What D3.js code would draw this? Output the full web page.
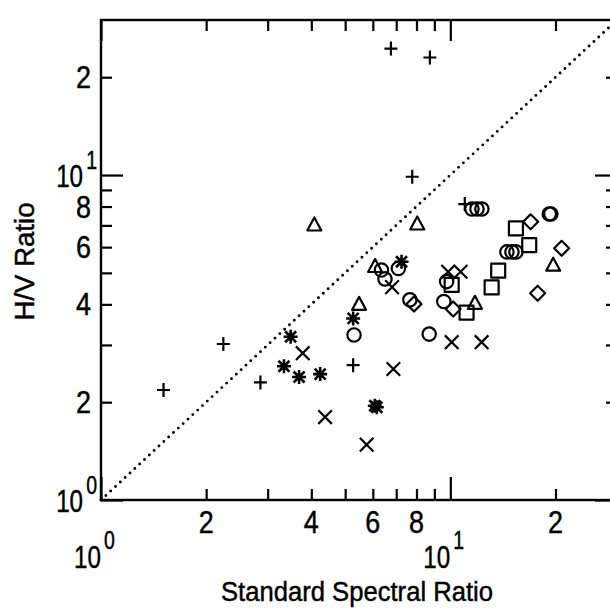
<!DOCTYPE html>
<html>
<head>
<meta charset="utf-8">
<script src="https://cdn.jsdelivr.net/npm/d3@7"></script>
<style>
  html, body { margin: 0; padding: 0; background: #fff; }
  svg { display: block; }
  text { font-family: "Liberation Sans Narrow", "Liberation Sans", Arial, sans-serif; fill: #000; stroke: #000; stroke-width: 0.45px; }
</style>
</head>
<body>
<svg id="chart" width="610" height="612"></svg>
<script>
// ---------- data (Standard Spectral Ratio, H/V Ratio) ----------
const plusPts = [[1.51,2.18],[2.24,3.02],[2.86,2.30],[5.27,2.60],[6.76,24.5],[8.74,23.0],[7.78,9.88],[11.0,8.14]];
const trianglePts = [[4.08,7.02],[8.04,7.07],[6.09,5.23],[5.48,4.00],[11.76,4.03],[19.7,5.28]];
const circlePts = [[6.35,5.10],[6.50,4.79],[7.10,5.16],[7.66,4.13],[5.30,3.22],[8.70,3.24],[9.76,4.70],[9.58,4.08],
                   [11.53,7.86],[11.92,7.86],[12.31,7.86],[19.2,7.59],[19.4,7.59],[14.52,5.80],[15.01,5.80],[15.41,5.80]];
const squarePts = [[15.41,6.85],[16.82,6.09],[13.71,5.08],[13.13,4.51],[11.13,3.77],[10.09,4.59]];
const diamondPts = [[16.98,7.18],[20.83,5.95],[17.78,4.33],[10.19,3.87],[7.87,4.01]];
const timesPts = [[3.78,2.83],[4.38,1.80],[6.81,4.52],[5.76,1.48],[6.87,2.53],[10.09,3.06],[12.29,3.06],[9.86,5.04],[10.7,5.04]];
const asteriskPts = [[3.49,3.18],[3.34,2.58],[3.69,2.39],[4.24,2.44],[5.27,3.62],[6.08,1.95],[6.16,1.93],[7.25,5.41]];

const xDomain = [1, 30];
const yDomain = [1, 30];
const minorTicks = [2,3,4,5,6,7,8,9,20];
const majorTicks = [1,10];
const digitTickLabels = [2,4,6,8,20];
const decadeExponents = [0,1];
const xTitle = "Standard Spectral Ratio";
const yTitle = "H/V Ratio";

// ---------- layout ----------
const svg = d3.select("#chart");
const x = d3.scaleLog().domain(xDomain).range([101, 617]);
const y = d3.scaleLog().domain(yDomain).range([500, 20]);
const ink = "#000";

// diagonal reference line y = x (dotted)
svg.append("line")
  .attr("x1", x(1)).attr("y1", y(1))
  .attr("x2", x(30)).attr("y2", y(30))
  .attr("stroke", ink).attr("stroke-width", 2.9)
  .attr("stroke-linecap", "round")
  .attr("stroke-dasharray", "0,6.6");

// frame
svg.append("rect")
  .attr("x", x(1)).attr("y", y(30))
  .attr("width", x(30) - x(1)).attr("height", y(1) - y(30))
  .attr("fill", "none").attr("stroke", ink).attr("stroke-width", 2.4);

function styleAxis(g) {
  g.select(".domain").remove();
  g.selectAll(".tick line").attr("stroke", ink).attr("stroke-width", 2.2);
  g.selectAll(".tick text").remove();
}
// bottom frame: ticks pointing up
svg.append("g").attr("transform", `translate(0,${y(1)})`)
  .call(d3.axisTop(x).tickValues(minorTicks).tickSize(11).tickFormat("")).call(styleAxis);
svg.append("g").attr("transform", `translate(0,${y(1)})`)
  .call(d3.axisTop(x).tickValues(majorTicks).tickSize(23).tickFormat("")).call(styleAxis);
// top frame: ticks pointing down
svg.append("g").attr("transform", `translate(0,${y(30)})`)
  .call(d3.axisBottom(x).tickValues(minorTicks).tickSize(11).tickFormat("")).call(styleAxis);
svg.append("g").attr("transform", `translate(0,${y(30)})`)
  .call(d3.axisBottom(x).tickValues(majorTicks).tickSize(21).tickFormat("")).call(styleAxis);
// left frame: ticks pointing right
svg.append("g").attr("transform", `translate(${x(1)},0)`)
  .call(d3.axisRight(y).tickValues(minorTicks).tickSize(11).tickFormat("")).call(styleAxis);
svg.append("g").attr("transform", `translate(${x(1)},0)`)
  .call(d3.axisRight(y).tickValues(majorTicks).tickSize(22).tickFormat("")).call(styleAxis);
// right frame: ticks pointing left
svg.append("g").attr("transform", `translate(${x(30)},0)`)
  .call(d3.axisLeft(y).tickValues(minorTicks).tickSize(11).tickFormat("")).call(styleAxis);
svg.append("g").attr("transform", `translate(${x(30)},0)`)
  .call(d3.axisLeft(y).tickValues(majorTicks).tickSize(22).tickFormat("")).call(styleAxis);

// ---------- tick labels ----------
const digitSize = 31, supSize = 25, squeeze = 0.78;
const leadDigit = v => String(Math.round(v / Math.pow(10, Math.floor(Math.log10(v)))));

// x digit labels
svg.append("g").selectAll("text").data(digitTickLabels).join("text")
  .attr("x", d => x(d)).attr("y", 533)
  .attr("text-anchor", "middle").attr("font-size", digitSize)
  .attr("textLength", 15).attr("lengthAdjust", "spacingAndGlyphs")
  .text(leadDigit);
// y digit labels
svg.append("g").selectAll("text").data(digitTickLabels).join("text")
  .attr("x", 91).attr("y", d => y(d) + 11)
  .attr("text-anchor", "end").attr("font-size", digitSize)
  .attr("textLength", 15).attr("lengthAdjust", "spacingAndGlyphs")
  .text(leadDigit);

// decade labels 10^n (single text with raised exponent)
function decadeLabel(tx, ty, anchor, e, rise) {
  const t = svg.append("text")
    .attr("transform", `translate(${tx},${ty}) scale(${squeeze},1)`)
    .attr("text-anchor", anchor).attr("font-size", digitSize);
  t.append("tspan").text("10");
  t.append("tspan").attr("dx", 4).attr("dy", -rise).attr("font-size", supSize).text(String(e));
}
decadeExponents.forEach(e => {
  const v = Math.pow(10, e);
  decadeLabel(x(v) - 27, 568, "start", e, 19);   // x axis
  decadeLabel(97, y(v) + 12, "end", e, 18);       // y axis
});

// axis titles
svg.append("text").attr("x", 357).attr("y", 601)
  .attr("text-anchor", "middle").attr("font-size", 27)
  .attr("textLength", 272).attr("lengthAdjust", "spacingAndGlyphs")
  .text(xTitle);
svg.append("text").attr("transform", "translate(34,261.5) rotate(-90)")
  .attr("text-anchor", "middle").attr("font-size", 27)
  .attr("textLength", 118).attr("lengthAdjust", "spacingAndGlyphs")
  .text(yTitle);

// ---------- markers ----------
const shapes = {
  circle: "M6.7,0A6.7,6.7 0 1,1 -6.7,0A6.7,6.7 0 1,1 6.7,0Z",
  square: "M-7,-7H7V7H-7Z",
  diamond: "M0,-7.5L7.5,0L0,7.5L-7.5,0Z",
  triangle: "M0,-7.5L7,5.5L-7,5.5Z",
  plus: "M-6.5,0H6.5M0,-7V7",
  times: "M-6.8,-6.8L6.8,6.8M-6.8,6.8L6.8,-6.8",
  asterisk: "M-7,0H7M0,-7V7M-5.5,-5.5L5.5,5.5M-5.5,5.5L5.5,-5.5"
};
const series = [
  [plusPts, "plus"], [trianglePts, "triangle"], [circlePts, "circle"],
  [squarePts, "square"], [diamondPts, "diamond"], [timesPts, "times"], [asteriskPts, "asterisk"]
];
series.forEach(([pts, shape]) => {
  svg.append("g").selectAll("path").data(pts).join("path")
    .attr("transform", d => `translate(${x(d[0])},${y(d[1])})`)
    .attr("d", shapes[shape])
    .attr("fill", "none").attr("stroke", ink)
    .attr("stroke-width", shape === "asterisk" ? 2.6 : 2.2)
    .attr("stroke-linejoin", "round");
});
</script>
</body>
</html>
